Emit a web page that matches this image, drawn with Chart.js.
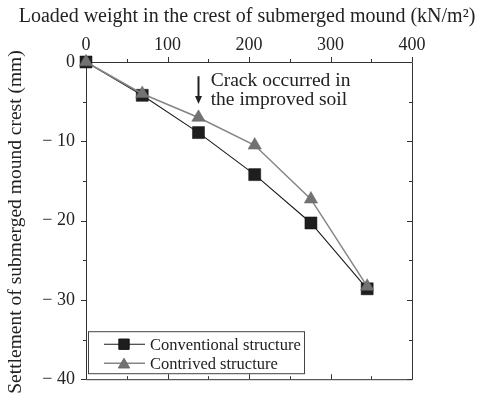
<!DOCTYPE html>
<html>
<head>
<meta charset="utf-8">
<script src="https://cdn.jsdelivr.net/npm/chart.js@4/dist/chart.umd.min.js"></script>
<style>
  html, body { margin: 0; padding: 0; background: #fff; }
  #wrap { width: 481px; height: 401px; }
</style>
</head>
<body>
<div id="wrap"><canvas id="c"></canvas></div>
<script>
// carga no topo do enrocamento (kN/m2) e recalque (mm)
const cargas = [0, 69, 138, 207, 276, 345];
const recalqueConvencional = [0, -4.2, -8.9, -14.2, -20.3, -28.6];
const recalqueModificado = [0, -4.0, -7.0, -10.5, -17.3, -28.3];
const ticksX = [0, 100, 200, 300, 400];
const ticksY = [0, -10, -20, -30, -40];
const minorX = [50, 150, 250, 350];
const minorY = [-5, -15, -25, -35];
const nomes = ['Conventional structure', 'Contrived structure'];
const tituloX = 'Loaded weight in the crest of submerged mound (kN/m\u00B2)';
const tituloY = 'Settlement of submerged mound crest (mm)';
const notaTrinca = ['Crack occurred in', 'the improved soil'];
const cargaTrinca = 138;

const SERIF = "'Liberation Serif', 'DejaVu Serif', serif";
const TXT = '#222';

function fmtY(v) {
  return v < 0 ? '\u2212 ' + Math.abs(v) : String(v);
}

// moldura com ticks, títulos, seta da trinca e legenda dentro da área
const molduraPlugin = {
  id: 'moldura',
  beforeDatasetsDraw(chart) {
    const { ctx, chartArea: a, scales: { x, y } } = chart;
    ctx.save();
    ctx.strokeStyle = '#333';
    ctx.lineWidth = 1;
    ctx.beginPath();
    ctx.rect(a.left + 0.5, a.top + 0.5, a.right - a.left, a.bottom - a.top);
    ctx.stroke();
    ctx.beginPath();
    const tick = (vals, len) => {
      vals.forEach(v => {
        const px = Math.round(x.getPixelForValue(v)) + 0.5;
        ctx.moveTo(px, a.top); ctx.lineTo(px, a.top - len);       // topo: para fora
        ctx.moveTo(px, a.bottom); ctx.lineTo(px, a.bottom - len); // base: para dentro
      });
    };
    const tickY = (vals, len) => {
      vals.forEach(v => {
        const py = Math.round(y.getPixelForValue(v)) + 0.5;
        ctx.moveTo(a.left, py); ctx.lineTo(a.left - len, py);     // esquerda: para fora
        ctx.moveTo(a.right, py); ctx.lineTo(a.right - len, py);   // direita: para dentro
      });
    };
    tick(ticksX, 5); tick(minorX, 3);
    tickY(ticksY, 5); tickY(minorY, 3);
    ctx.stroke();

    // títulos (o título do Chart.js fica espremido na largura do eixo)
    ctx.fillStyle = TXT;
    ctx.textAlign = 'center'; ctx.textBaseline = 'middle';
    ctx.font = '20px ' + SERIF;
    ctx.fillText(tituloX, 247, 17);
    ctx.font = '19.5px ' + SERIF;
    ctx.translate(16, 222);
    ctx.rotate(-Math.PI / 2);
    ctx.fillText(tituloY, 0, 0);
    ctx.restore();
  },
  afterDraw(chart) {
    const { ctx, chartArea: a, scales: { x, y } } = chart;
    ctx.save();
    // seta
    const ax = Math.round(x.getPixelForValue(cargaTrinca)) + 0.5;
    const y1 = y.getPixelForValue(-1.8);
    const y2 = y.getPixelForValue(-5.3);
    ctx.strokeStyle = TXT; ctx.fillStyle = TXT; ctx.lineWidth = 2;
    ctx.beginPath(); ctx.moveTo(ax, y1); ctx.lineTo(ax, y2 - 7); ctx.stroke();
    ctx.beginPath(); ctx.moveTo(ax - 3.5, y2 - 8); ctx.lineTo(ax + 3.5, y2 - 8); ctx.lineTo(ax, y2); ctx.closePath(); ctx.fill();
    // texto
    ctx.font = '19.5px ' + SERIF;
    ctx.textAlign = 'left'; ctx.textBaseline = 'alphabetic';
    const tx = x.getPixelForValue(153);
    ctx.fillText(notaTrinca[0], tx, y.getPixelForValue(-3.05));
    ctx.fillText(notaTrinca[1], tx, y.getPixelForValue(-5.4));

    // legenda
    const bx = a.left + 2, by = a.bottom - 48, bw = 216, bh = 42;
    ctx.lineWidth = 1; ctx.strokeStyle = '#444';
    ctx.strokeRect(bx + 0.5, by + 0.5, bw, bh);
    ctx.font = '16.5px ' + SERIF;
    ctx.textBaseline = 'middle';
    [0, 1].forEach((i, k) => {
      const ds = chart.data.datasets[i];
      const ly = by + 13 + k * 19;
      ctx.strokeStyle = ds.borderColor; ctx.lineWidth = ds.borderWidth;
      ctx.beginPath(); ctx.moveTo(bx + 16, ly); ctx.lineTo(bx + 57, ly); ctx.stroke();
      ctx.fillStyle = ds.pointBackgroundColor; ctx.strokeStyle = ds.pointBorderColor; ctx.lineWidth = 1;
      Chart.helpers.drawPoint(ctx, { pointStyle: ds.pointStyle, radius: ds.pointRadius - 1.2, borderWidth: 1 }, bx + 36, ly + (ds.pointStyle === 'triangle' ? 1.5 : 0));
      ctx.fillStyle = TXT;
      ctx.fillText(ds.label, bx + 62, ly + 1);
    });
    ctx.restore();
  }
};

new Chart(document.getElementById('c').getContext('2d'), {
  type: 'line',
  data: {
    labels: cargas,
    datasets: [
      {
        label: nomes[0], data: cargas.map((c, i) => ({ x: c, y: recalqueConvencional[i] })),
        borderColor: '#1a1a1a', borderWidth: 1.1, pointStyle: 'rect', pointRadius: 8.5,
        pointBackgroundColor: '#1e1e1e', pointBorderColor: '#111', pointBorderWidth: 0.5,
        order: 2, clip: false, tension: 0,
      },
      {
        label: nomes[1], data: cargas.map((c, i) => ({ x: c, y: recalqueModificado[i] })),
        borderColor: '#858585', borderWidth: 1.5, pointStyle: 'triangle', pointRadius: 7.7,
        pointBackgroundColor: '#727272', pointBorderColor: '#6a6a6a', pointBorderWidth: 0.5,
        order: 1, clip: false, tension: 0,
      },
    ],
  },
  options: {
    responsive: true, maintainAspectRatio: false, animation: false,
    layout: { padding: { left: 0, top: 0, right: 69, bottom: 12 } },
    plugins: { legend: { display: false }, tooltip: { enabled: false } },
    scales: {
      x: {
        type: 'linear', position: 'top', min: 0, max: 400,
        afterBuildTicks: (s) => { s.ticks = ticksX.map(v => ({ value: v })); },
        afterFit: (s) => { s.height = 62; },
        ticks: { color: TXT, font: { family: SERIF, size: 18 }, padding: 6 },
        grid: { display: false, drawTicks: false }, border: { display: false },
      },
      y: {
        type: 'linear', min: -40, max: 0,
        afterBuildTicks: (s) => { s.ticks = ticksY.map(v => ({ value: v })); },
        afterFit: (s) => { s.width = 86; },
        ticks: { color: TXT, font: { family: SERIF, size: 18 }, padding: 11, callback: fmtY },
        grid: { display: false, drawTicks: false }, border: { display: false },
      },
    },
  },
  plugins: [molduraPlugin],
});
</script>
</body>
</html>
